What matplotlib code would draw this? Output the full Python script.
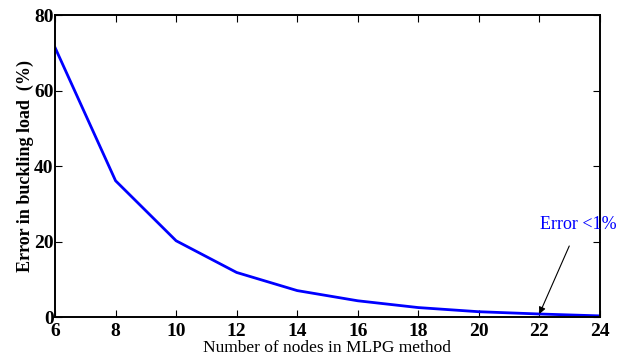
import matplotlib
matplotlib.use("Agg")
import matplotlib.pyplot as plt

nodes = [6, 8, 10, 12, 14, 16, 18, 20, 22, 24]
error_pct = [71.4, 36.1, 20.2, 11.8, 7.0, 4.3, 2.5, 1.4, 0.8, 0.3]
x_ticks = [6, 8, 10, 12, 14, 16, 18, 20, 22, 24]
y_ticks = [0, 20, 40, 60, 80]
note_text = "Error <1%"
note_x = 22
note_y = 0.8

plt.rcParams["font.family"] = ["Liberation Serif", "DejaVu Serif"]

fig = plt.figure(figsize=(6.21, 3.58), dpi=100)
ax = fig.add_axes([0.0886, 0.1145, 0.8774, 0.8435])

ax.plot(nodes, error_pct, color="#0000ff", lw=2.0)

ax.set_xlim(6, 24)
ax.set_ylim(0, 80)
ax.set_xticks(x_ticks)
ax.set_yticks(y_ticks)
ax.tick_params(direction="in", top=True, right=True, length=5, width=0.8,
               labelsize=14)
ax.tick_params(axis="x", pad=4)
ax.tick_params(axis="y", pad=1)
for lab in ax.get_xticklabels() + ax.get_yticklabels():
    lab.set_fontweight("bold")
for s in ax.spines.values():
    s.set_linewidth(1.4)

ax.set_xlabel("Number of nodes in MLPG method", fontsize=12.5, labelpad=0)
ax.set_ylabel("Error in buckling load  (%)", fontsize=13, fontweight="bold",
              labelpad=0)

ax.annotate(note_text, xy=(note_x, note_y), xytext=(23.3, 24.5),
            color="#0000ff", fontsize=13, ha="center", va="center",
            arrowprops=dict(arrowstyle="-|>", color="black", lw=0.8,
                            shrinkA=8, shrinkB=0, mutation_scale=10))

fig.savefig("out.png", dpi=100)
